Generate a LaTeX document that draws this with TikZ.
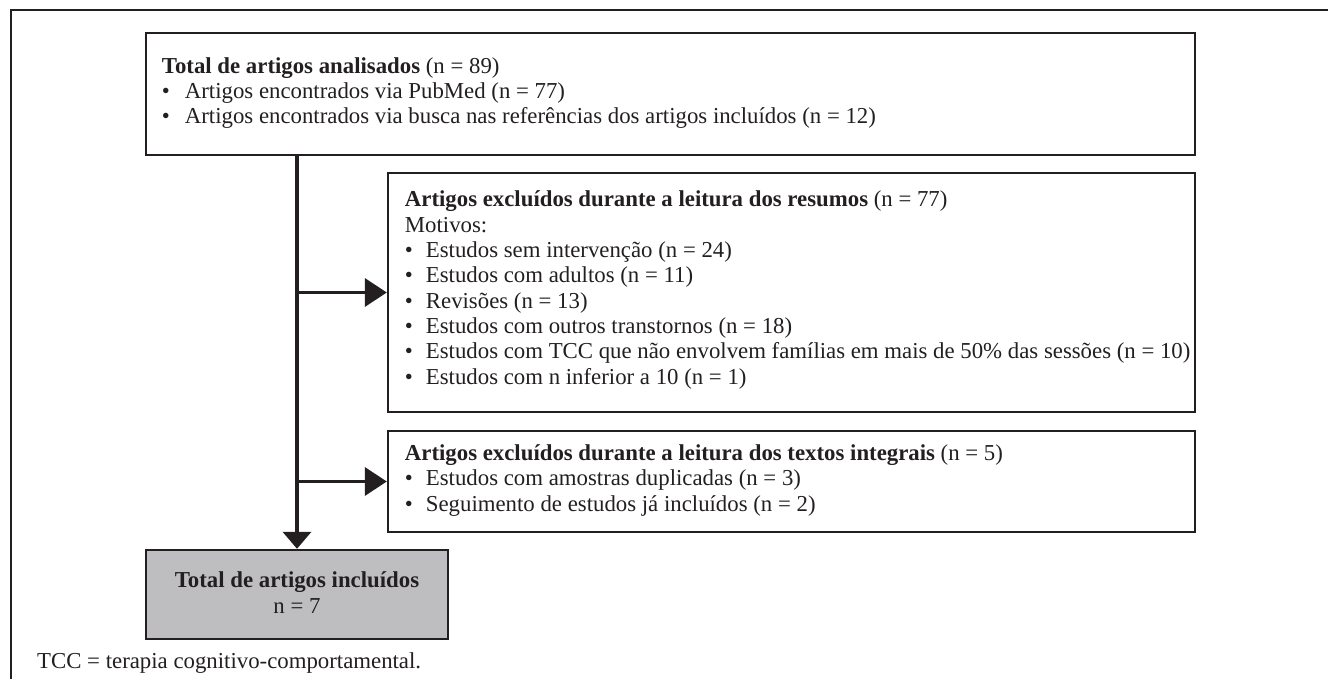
\documentclass[tikz,border=0pt]{standalone}
\usepackage{fontspec}
\setmainfont{Liberation Serif}
\usetikzlibrary{arrows.meta}
\definecolor{ink}{RGB}{35,31,32}
\definecolor{boxgray}{RGB}{190,190,192}
\newcommand{\bulitem}[1][21pt]{\makebox[#1][l]{\textbullet}}
\begin{document}
\begin{tikzpicture}[x=1pt,y=-1pt,
  box/.style={draw=ink, line width=2.5pt, inner sep=0pt},
  txt/.style={inner sep=0pt, align=left, text=ink, font=\fontsize{22.8}{25.3}\selectfont},
  arr/.style={draw=ink, line width=3.4pt, -{Triangle[length=22pt,width=29pt,line width=0pt]}},
  darr/.style={draw=ink, line width=3.4pt, -{Triangle[length=17pt,width=29pt,line width=0pt]}},
]
\useasboundingbox (0,0) rectangle (1328,679);
\draw[ink, line width=2pt] (11,679) -- (11,10) -- (1328,10);

\node[box, minimum width=1049pt, minimum height=122pt] (top) at (670.5,94) {};
\node[box, minimum width=807pt, minimum height=239pt] (mid) at (791.5,292.5) {};
\node[box, minimum width=807pt, minimum height=101pt] (low) at (791.5,481.5) {};
\node[box, fill=boxgray, minimum width=302pt, minimum height=89pt] (res) at (297,594.5) {};
\node[txt, align=center] (restxt) at ([yshift=2pt]res.center)
  {\textbf{Total de artigos incluídos}\\n = 7};

\node[txt, anchor=west] (toptxt) at ([xshift=17pt,yshift=1pt]top.west)
  {\textbf{Total de artigos analisados} (n = 89)\\
   \bulitem[23pt]Artigos encontrados via PubMed (n = 77)\\
   \bulitem[23pt]Artigos encontrados via busca nas referências dos artigos incluídos (n = 12)};

\node[txt, anchor=west] (midtxt) at ([xshift=18pt,yshift=2.5pt]mid.west)
  {\textbf{Artigos excluídos durante a leitura dos resumos} (n = 77)\\
   Motivos:\\
   \bulitem Estudos sem intervenção (n = 24)\\
   \bulitem Estudos com adultos (n = 11)\\
   \bulitem Revisões (n = 13)\\
   \bulitem Estudos com outros transtornos (n = 18)\\
   \bulitem Estudos com TCC que não envolvem famílias em mais de 50\% das sessões (n = 10)\\
   \bulitem Estudos com n inferior a 10 (n = 1)};

\node[txt, anchor=west] (lowtxt) at ([xshift=18pt,yshift=1pt]low.west)
  {\textbf{Artigos excluídos durante a leitura dos textos integrais} (n = 5)\\
   \bulitem Estudos com amostras duplicadas (n = 3)\\
   \bulitem Seguimento de estudos já incluídos (n = 2)};

\node[txt, anchor=base west] (note) at (37,668) {TCC = terapia cognitivo-comportamental.};

\draw[darr] (res.north |- top.south) -- (res.north);
\draw[arr] (res.north |- mid.west) -- (mid.west);
\draw[arr] (res.north |- low.west) -- (low.west);
\end{tikzpicture}
\end{document}
